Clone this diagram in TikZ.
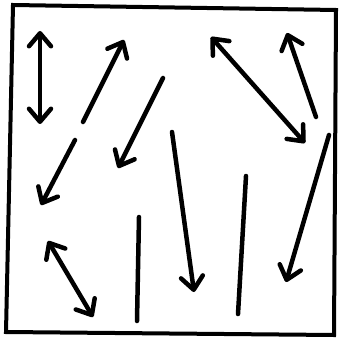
\documentclass[tikz,border=0pt]{standalone}
\usetikzlibrary{arrows.meta}
\begin{document}
\begin{tikzpicture}[x=1pt,y=-1pt,
  stroke/.style={line width=4.5pt, line cap=round},
  barb/.style={stroke, -{Straight Barb[length=13pt,width=22pt,round]}},
  dbarb/.style={stroke, {Straight Barb[length=13pt,width=22pt,round]}-{Straight Barb[length=13pt,width=22pt,round]}}]
\useasboundingbox (0,0) rectangle (339,339);
\draw[line width=4pt, line join=miter] (13,5) -- (336,10) -- (334,335) -- (6,332) -- cycle;
\coordinate (a1) at (40,31);  \coordinate (a2) at (40,124);
\coordinate (b1) at (83,122); \coordinate (b2) at (124,40);
\coordinate (c1) at (75,140); \coordinate (c2) at (41,205);
\coordinate (d1) at (163,78); \coordinate (d2) at (118,168);
\coordinate (e1) at (211,37); \coordinate (e2) at (305,143);
\coordinate (f1) at (316,117); \coordinate (f2) at (287,33);
\coordinate (g1) at (329,135); \coordinate (g2) at (286,282);
\coordinate (h1) at (172,132); \coordinate (h2) at (194,292);
\coordinate (i1) at (246,176); \coordinate (i2) at (238,314);
\coordinate (j1) at (139,217); \coordinate (j2) at (137,321);
\coordinate (k1) at (48,241); \coordinate (k2) at (93,317);
\draw[dbarb] (a1) -- (a2);
\draw[barb] (b1) -- (b2);
\draw[barb] (c1) -- (c2);
\draw[barb] (d1) -- (d2);
\draw[dbarb] (e1) -- (e2);
\draw[barb] (f1) -- (f2);
\draw[barb] (g1) -- (g2);
\draw[barb] (h1) -- (h2);
\draw[stroke] (i1) -- (i2);
\draw[stroke] (j1) -- (j2);
\draw[dbarb] (k1) -- (k2);
\end{tikzpicture}
\end{document}
